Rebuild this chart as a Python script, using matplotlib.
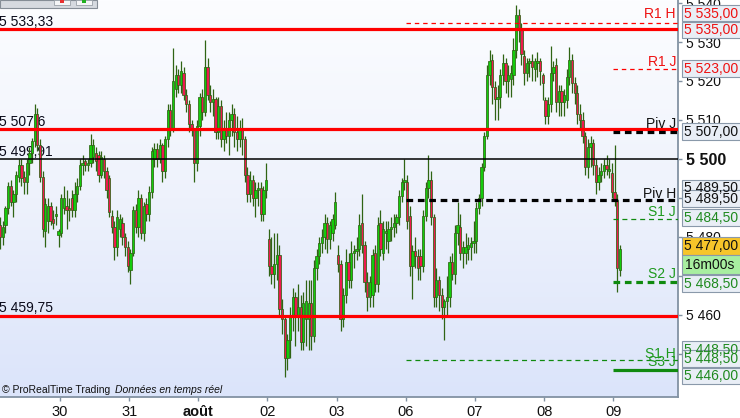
import numpy as np
import matplotlib
matplotlib.use("Agg")
import matplotlib.pyplot as plt
import matplotlib.transforms as mtransforms
from matplotlib.colors import LinearSegmentedColormap
from matplotlib.patches import Rectangle

plt.rcParams['font.family'] = ['Liberation Sans', 'DejaVu Sans']
plt.rcParams['lines.scale_dashes'] = False

# ---------------- data: 20-minute candles (open, high, low, close) ----------------
jul27 = [
    (5483, 5485, 5477, 5480), (5480, 5484, 5478, 5482.5), (5483, 5488, 5481, 5487.5),
    (5487.5, 5494, 5486, 5493), (5493, 5494.5, 5488, 5489), (5489, 5492, 5485, 5491),
    (5491, 5497, 5489, 5496), (5495.5, 5500, 5494, 5498.5), (5498.5, 5500, 5493, 5495),
    (5495.5, 5497, 5491, 5494), (5494, 5500, 5491, 5499), (5499, 5503, 5496, 5501.5),
    (5501.5, 5505.5, 5499, 5504.5), (5504.5, 5514, 5503, 5511.5), (5511.5, 5513, 5502, 5503.5),
    (5503.5, 5505, 5494, 5495.5), (5495.5, 5497, 5480, 5482), (5481.5, 5490, 5477.5, 5488.5),
    (5484, 5490, 5481, 5488), (5488, 5489, 5483, 5484), (5484.5, 5487, 5482, 5483.5),
    (5485.5, 5488, 5483, 5485.5), (5480.5, 5482, 5477.5, 5481.5),
]
jul30 = [
    (5481, 5491, 5480, 5490), (5487.5, 5493, 5486, 5490), (5488, 5492, 5482, 5487),
    (5487.5, 5490, 5484, 5487), (5490, 5492, 5485, 5487), (5487, 5494, 5485, 5491),
    (5491, 5495, 5489, 5493), (5493, 5500, 5492, 5498.5), (5498.5, 5501, 5496, 5499),
    (5499.5, 5500, 5497, 5498.5), (5498.5, 5500, 5497, 5499), (5499, 5506.5, 5498, 5503.5),
    (5500.5, 5505, 5499, 5503.5), (5501.5, 5503, 5497, 5499.5), (5501, 5502, 5494, 5496),
    (5496, 5502, 5495, 5500.5), (5500, 5501, 5495, 5497), (5497, 5498, 5490, 5492),
    (5495, 5496, 5485, 5486.5), (5485.5, 5487, 5481, 5482.5), (5482.5, 5484, 5474, 5477.5),
    (5477.5, 5487, 5475, 5485), (5482, 5486, 5480, 5484.5), (5483.5, 5485, 5478, 5480),
    (5480, 5481, 5475, 5477.5), (5477.5, 5479, 5471, 5472.5),
]
jul31 = [
    (5471.5, 5477, 5468, 5476), (5476, 5488, 5475, 5487), (5487, 5488.5, 5481, 5482.5),
    (5482.5, 5492, 5480, 5490), (5490, 5491, 5479.5, 5481), (5481, 5489, 5479, 5488),
    (5488.5, 5490, 5484, 5486), (5486, 5493, 5484, 5491.5), (5491.5, 5503, 5490, 5502),
    (5500, 5504, 5498, 5502.5), (5502.5, 5504, 5498, 5500), (5500, 5505, 5499, 5503.5),
    (5503.5, 5504, 5494, 5497), (5497, 5506, 5495, 5505), (5505, 5514, 5503, 5512.5),
    (5512.5, 5514, 5506, 5508), (5508, 5528.5, 5507, 5520), (5518, 5524, 5516, 5521.5),
    (5521.5, 5523, 5517, 5519), (5519, 5525, 5517, 5522.5), (5522, 5523.5, 5515, 5516.5),
    (5516.5, 5518, 5512, 5514), (5514, 5515, 5507, 5509), (5509, 5510, 5506, 5507.5),
    (5507.5, 5508, 5494, 5499), (5499, 5510, 5497, 5508.5),
]
aug01 = [
    (5508.5, 5517, 5506, 5516), (5516, 5518, 5510, 5512), (5512, 5530.5, 5511, 5523.5),
    (5523.5, 5526, 5515, 5516.5), (5516.5, 5519, 5512, 5514.5), (5514.5, 5518, 5511, 5515.5),
    (5515.5, 5516, 5505, 5507), (5507, 5516, 5505, 5513.5), (5513.5, 5515, 5503, 5505),
    (5505, 5510, 5502, 5508), (5508, 5512, 5504, 5506), (5506, 5512, 5501, 5510),
    (5510, 5514, 5506, 5511.5), (5511.5, 5513, 5503, 5507), (5507, 5511, 5502, 5505),
    (5505, 5510, 5503, 5508), (5508, 5510.5, 5501, 5505), (5505, 5506, 5494, 5496),
    (5496, 5498, 5489, 5491), (5491, 5497, 5489, 5494.5), (5494.5, 5496, 5488, 5490),
    (5490, 5494, 5485, 5492), (5492, 5494, 5488, 5492.5), (5492.5, 5494, 5484, 5486),
    (5486, 5493, 5484, 5492), (5492, 5499, 5490, 5494.5),
]
aug02 = [
    (5479.5, 5482, 5470, 5472.5), (5472.5, 5480, 5468, 5470.5), (5470.5, 5481, 5467, 5473),
    (5473, 5481, 5469, 5475.5), (5475.5, 5478, 5460, 5461.5), (5461.5, 5464, 5455, 5459),
    (5459, 5460, 5444, 5449), (5449, 5455, 5446, 5453.5), (5453.5, 5462, 5449, 5459.5),
    (5459.5, 5467, 5456, 5464.5), (5464.5, 5466, 5452, 5460), (5460, 5468, 5456, 5462),
    (5462, 5465, 5451, 5453), (5453, 5466, 5451, 5463), (5459, 5469, 5452, 5463.5),
    (5459, 5469, 5451, 5463), (5463, 5469, 5451, 5454.5), (5454.5, 5474, 5453, 5472),
    (5472, 5477, 5469, 5475), (5475, 5480, 5473, 5478.5), (5478.5, 5482, 5476, 5480),
    (5480, 5486, 5477, 5483.5), (5483.5, 5485, 5476, 5479.5), (5479.5, 5484, 5477, 5483),
    (5481, 5486, 5479, 5484.5), (5483, 5491.5, 5482, 5489),
]
aug03 = [
    (5475.5, 5478, 5471, 5473), (5473, 5474, 5456, 5459), (5459, 5467, 5457, 5465),
    (5465, 5477, 5463, 5473.5), (5473.5, 5476, 5467, 5469), (5469, 5479, 5467, 5476),
    (5476, 5478, 5472, 5476.5), (5476.5, 5480, 5474, 5477), (5477, 5486, 5475, 5483),
    (5483.5, 5491, 5476, 5478), (5478, 5479, 5466, 5468.5), (5468.5, 5471, 5461, 5464.5),
    (5464.5, 5470, 5462, 5468.5), (5465, 5477, 5462, 5475.5), (5476, 5478, 5466, 5468),
    (5468, 5485, 5466, 5483), (5483.5, 5487, 5475, 5477), (5476, 5484, 5474, 5482),
    (5481, 5484, 5477, 5481.5), (5479, 5484, 5476, 5482), (5482, 5485, 5479, 5482.5),
    (5482.5, 5486, 5480, 5483.5), (5483.5, 5486, 5481, 5485), (5485, 5492, 5483, 5490.5),
    (5490.5, 5495, 5489, 5494), (5494, 5500, 5492, 5494.5),
]
aug06 = [
    (5494, 5496, 5482, 5484), (5485.5, 5488, 5470, 5472.5), (5472.5, 5478, 5464, 5476.5),
    (5476.5, 5480, 5472, 5475), (5475, 5477, 5469, 5472), (5475, 5477, 5469, 5472.5),
    (5472.5, 5487, 5471, 5485.5), (5485.5, 5494, 5484, 5492.5), (5492.5, 5501, 5490, 5494.5),
    (5494.5, 5497, 5483, 5485), (5485, 5486, 5462, 5464.5), (5464.5, 5472, 5462, 5469),
    (5469, 5470, 5461, 5465), (5465, 5467, 5459, 5462), (5462, 5464, 5453.5, 5463.5),
    (5463.5, 5470, 5460, 5464.5), (5464.5, 5475, 5462, 5473.5), (5473.5, 5476, 5469, 5470.5),
    (5470.5, 5483, 5468, 5481), (5481, 5489, 5478, 5483), (5482.5, 5486, 5474, 5476),
    (5476, 5479, 5472, 5477.5), (5476, 5481, 5473, 5477.5), (5477, 5480, 5474, 5478),
    (5477.5, 5480, 5474, 5478.5), (5478.5, 5484, 5476, 5479),
]
aug07 = [
    (5479, 5489, 5476, 5487.5), (5487.5, 5491, 5486, 5490), (5490, 5499, 5488, 5498),
    (5498, 5507, 5497, 5506), (5506, 5524, 5505, 5521.5), (5521.5, 5528, 5519, 5525),
    (5525.5, 5527, 5514, 5518.5), (5518.5, 5520, 5510, 5515.5), (5515.5, 5519, 5510, 5516),
    (5516, 5523, 5513, 5521.5), (5521.5, 5527, 5519, 5524.5), (5524.5, 5526, 5517, 5520),
    (5520, 5524, 5516, 5521.5), (5520.5, 5524, 5516, 5522), (5521.5, 5531, 5519, 5528),
    (5528, 5539.5, 5526, 5537), (5537, 5538.5, 5530, 5533), (5533, 5535, 5524, 5527),
    (5526.5, 5528, 5519, 5522), (5522, 5526, 5520, 5524.5), (5524.5, 5526, 5521, 5525),
    (5525, 5527, 5520, 5523.5), (5523, 5526, 5520, 5525), (5524.5, 5527.5, 5521, 5525),
    (5525, 5526, 5519, 5522.5), (5521.5, 5522, 5515, 5519.5),
]
aug08 = [
    (5515, 5516, 5509, 5511), (5511, 5516, 5509, 5514), (5514, 5529, 5512, 5522),
    (5522, 5525, 5520, 5523.5), (5524, 5526, 5512, 5514.5), (5514.5, 5519, 5511, 5517.5),
    (5517.5, 5519, 5511, 5514.5), (5514.5, 5518, 5511, 5516.5), (5515, 5523, 5513, 5521),
    (5521, 5528.7, 5519, 5525.5), (5525.5, 5527, 5517, 5519.5), (5519.5, 5521, 5514, 5517),
    (5517, 5519, 5509, 5511.5), (5511.5, 5514, 5508, 5510), (5510, 5512, 5504, 5506),
    (5506, 5507, 5496, 5498), (5498, 5505, 5495, 5503), (5503, 5506, 5498, 5504),
    (5504, 5505, 5496, 5498.5), (5498.5, 5500, 5491, 5494), (5494, 5498, 5492, 5496),
    (5496, 5499, 5494, 5497), (5497, 5500, 5495, 5498.5), (5498.5, 5501, 5496, 5497.5),
    (5497, 5500, 5495, 5497.5), (5496.5, 5499, 5490, 5491.5),
]
aug09 = [(5491.5, 5503.5, 5488, 5489.5), (5489.5, 5491, 5466, 5472), (5471.5, 5478, 5470, 5477)]

day_labels = ['30', '31', 'août', '02', '03', '06', '07', '08', '09']

# horizontal reference levels
ref_levels = [5533.33, 5507.6, 5459.75]
ref_labels = ['5 533,33', '5 507,6', '5 459,75']
prev_close = 5499.91
prev_close_label = '5 499,91'

pivot_names = ['R1 H', 'R1 J', 'Piv J', 'Piv H', 'S1 J', 'S2 J', 'S1 H', 'S3 J']
pivot_values = [5535.0, 5523.0, 5507.0, 5489.5, 5484.5, 5468.5, 5448.5, 5446.0]

y_ticks = [5540, 5530, 5520, 5510, 5500, 5490, 5480, 5470, 5460, 5450]
y_tick_labels = ['5 540', '5 530', '5 520', '5 510', '5 500', '5 490', '5 480', '5 470', '5 460', '5 450']

box_texts = ['5 535,00', '5 535,00', '5 523,00', '5 507,00', '5 489,50', '5 489,50',
             '5 484,50', '5 477,00', '16m00s', '5 468,50', '5 448,50', '5 448,50', '5 446,00']

# ---------------- layout helpers ----------------
W, H = 740, 418
fig = plt.figure(figsize=(W / 100, H / 100), dpi=100)
fig.patch.set_facecolor('white')


def fx(px):
    return px / W


def fy(py):
    return 1 - py / H


Y_TOP, Y_BOT = 5540.77, 5438.97          # price at pixel y=0 and y=397
PLOT_BOTTOM_PX, PLOT_RIGHT_PX = 397, 677.5


def price_at(py):
    return Y_TOP - py * (Y_TOP - Y_BOT) / PLOT_BOTTOM_PX


ax = fig.add_axes([0, fy(PLOT_BOTTOM_PX), fx(PLOT_RIGHT_PX), PLOT_BOTTOM_PX / H])
x_left = -0.0376
x_right = x_left + PLOT_RIGHT_PX / 2.66
ax.set_xlim(x_left, x_right)
ax.set_ylim(Y_BOT, Y_TOP)

# background gradient
cmap_bg = LinearSegmentedColormap.from_list('bg', ['#fcfdff', '#eef2fc', '#dbe4fa'])
ax.imshow(np.linspace(0, 1, 256).reshape(-1, 1), cmap=cmap_bg, aspect='auto',
          extent=[x_left, x_right, Y_BOT, Y_TOP], origin='upper', zorder=-10)

# ---------------- candles ----------------
days = [jul27, jul30, jul31, aug01, aug02, aug03, aug06, aug07, aug08, aug09]
ohlc = np.array([row for d in days for row in d], dtype=float)
o, hi, lo, c = ohlc.T
xs = np.arange(len(ohlc))
lens = [len(d) for d in days]
day_starts = np.cumsum(lens)[:-1]          # first candle of 30, 31, août ...
tick_pos = day_starts - 0.5

edge_col = '#2f6414'
up_col = '#14cc0c'
dn_col = '#ec1a4e'
ax.vlines(xs, lo, hi, color=edge_col, lw=0.9, zorder=2)
body_low = np.minimum(o, c)
body_h = np.maximum(np.abs(c - o), 0.3)
fills = [up_col if cc >= oo else dn_col for oo, cc in zip(o, c)]
ax.bar(xs, body_h, bottom=body_low, width=0.86, color=fills, edgecolor=edge_col,
       linewidth=0.55, zorder=3)

# ---------------- reference lines ----------------
blend = mtransforms.blended_transform_factory(ax.transAxes, ax.transData)
for lv in ref_levels:
    ax.axhline(lv, color='#ff0000', lw=2.3, zorder=4)
ax.axhline(prev_close, color='black', lw=1.1, zorder=4)

label_baselines_px = [26.5, 126.5, 312.5]
for lb, bpx in zip(ref_labels, label_baselines_px):
    ax.text(-0.002, price_at(bpx), lb, transform=blend, fontsize=10, color='#0a0a1a',
            ha='left', va='baseline', zorder=1)
ax.text(-0.002, price_at(156.5), prev_close_label, transform=blend, fontsize=10,
        color='#0a0a1a', ha='left', va='baseline', zorder=1)

h_start = day_starts[5] - 0.5      # weekly levels start on the 6th
j_start = day_starts[8] - 0.5      # daily levels start on the 9th
red = '#ff0000'
grn = '#0f8a0f'
styles = {
    'R1 H': (h_start, red, 0.9, (0, (3.2, 2.8))),
    'R1 J': (j_start, red, 0.9, (0, (3.2, 2.8))),
    'Piv J': (j_start, 'black', 2.3, (0, (4.8, 3.4))),
    'Piv H': (h_start, 'black', 2.3, (0, (4.8, 3.4))),
    'S1 J': (j_start, grn, 0.9, (0, (3.6, 2.8))),
    'S2 J': (j_start, grn, 2.3, (0, (4.8, 3.4))),
    'S1 H': (h_start, grn, 0.9, (0, (3.6, 2.8))),
    'S3 J': (j_start, grn, 2.3, '-'),
}
for nm, val in zip(pivot_names, pivot_values):
    st, col, lw, ls = styles[nm]
    ax.plot([st, x_right], [val, val], color=col, lw=lw, linestyle=ls, zorder=4,
            solid_capstyle='butt', dash_capstyle='butt')

name_base_px = {'R1 H': 18.5, 'R1 J': 65.5, 'Piv J': 128, 'Piv H': 197.5,
                'S1 J': 215.5, 'S2 J': 278.5, 'S1 H': 357.5, 'S3 J': 366.5}
name_col = {'R1 H': '#ee1111', 'R1 J': '#ee1111', 'Piv J': '#111111', 'Piv H': '#111111',
            'S1 J': '#1f9a1f', 'S2 J': '#1f9a1f', 'S1 H': '#1f9a1f', 'S3 J': '#1f9a1f'}
for nm in pivot_names:
    ax.text(676 / PLOT_RIGHT_PX, price_at(name_base_px[nm]), nm, transform=blend,
            fontsize=10, color=name_col[nm], ha='right', va='baseline', zorder=5)

# ---------------- axes cosmetics ----------------
for side in ['left', 'top']:
    ax.spines[side].set_visible(False)
for side in ['right', 'bottom']:
    ax.spines[side].set_color('#8292a3')
    ax.spines[side].set_linewidth(1.3)
ax.yaxis.tick_right()
ax.set_yticks(y_ticks)
ax.set_yticklabels(y_tick_labels)
ax.tick_params(axis='y', length=3, width=1, color='#8292a3', pad=3, labelsize=10,
               labelcolor='#111111')
for t in ax.get_yticklabels():
    if t.get_text() == '5 500':
        t.set_fontweight('bold')
        t.set_fontsize(11.5)
ax.set_xticks(tick_pos)
ax.set_xticklabels(day_labels)
ax.tick_params(axis='x', length=3, width=1, color='#8292a3', pad=3, labelsize=10.5,
               labelcolor='#111111')
for t in ax.get_xticklabels():
    if t.get_text() == 'août':
        t.set_fontweight('bold')

# ---------------- right-hand value boxes ----------------
box_px = [(5, 21), (22, 38), (60, 77), (123, 140), (180, 196), (190, 207), (209, 226),
          (237, 255), (255, 274), (275, 292), (341, 357), (350, 367), (368, 384)]
box_txt_col = ['#ee1111', '#ee1111', '#ee1111', '#111111', '#111111', '#111111',
               '#1f8a1f', '#111111', '#111111', '#1f8a1f', '#1f8a1f', '#1f8a1f', '#1f8a1f']
box_fc = ['#e9eef6'] * 7 + ['#f7c52a', '#a8eea0'] + ['#e9eef6'] * 4
for (y0, y1), txt, tc, fc in zip(box_px, box_texts, box_txt_col, box_fc):
    fig.add_artist(Rectangle((fx(681.5), fy(y1)), fx(70), (y1 - y0) / H,
                             transform=fig.transFigure, facecolor=fc,
                             edgecolor='#8a99aa', lw=0.8, zorder=5))
    fig.text(fx(684.5), fy((y0 + y1) / 2 + 0.5), txt, fontsize=10, color=tc,
             ha='left', va='center', zorder=6)

# ---------------- footer & toolbar ----------------
fig.text(fx(2), fy(390), '© ProRealTime Trading', fontsize=7.5, color='#111111',
         ha='left', va='center', zorder=6)
fig.text(fx(115), fy(390), 'Données en temps réel', fontsize=7.5, color='#111111',
         style='italic', ha='left', va='center', zorder=6)

fig.add_artist(Rectangle((0, fy(7.5)), fx(97), 7.5 / H, transform=fig.transFigure,
                         facecolor='#d6dae0', edgecolor='#858d96', lw=0.8, zorder=5))
for bx, mark in [(53.5, '#e83030'), (75.5, '#20b020')]:
    fig.add_artist(Rectangle((fx(bx), fy(5)), fx(16.5), 5 / H, transform=fig.transFigure,
                             facecolor='#f4f5f7', edgecolor='#9aa1a9', lw=0.6, zorder=6))
    fig.add_artist(Rectangle((fx(bx + 6.5), fy(3)), fx(3.5), 3 / H, transform=fig.transFigure,
                             facecolor=mark, edgecolor='none', zorder=7))

fig.savefig('out.png', dpi=100)
